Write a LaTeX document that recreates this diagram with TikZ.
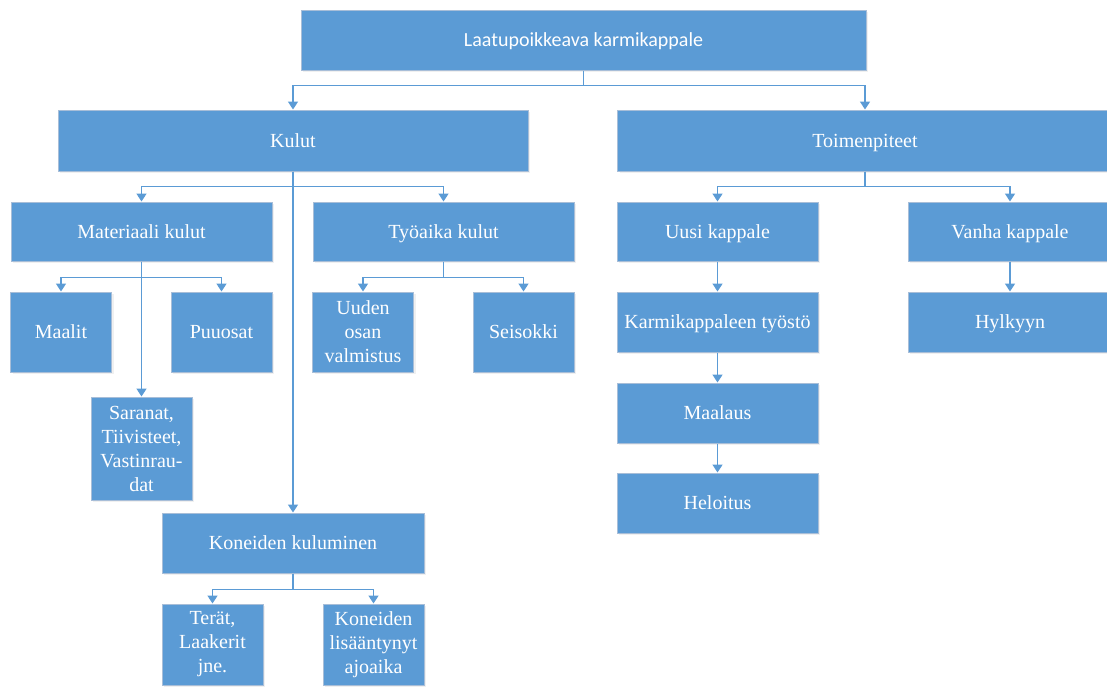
\documentclass[tikz,border=0pt]{standalone}
\usepackage{fontspec}
\setmainfont{Liberation Serif}
\newfontfamily\timesfont{Liberation Serif}
\newfontfamily\calibri{Carlito}
\usepackage{tikz}
\usetikzlibrary{arrows.meta,shadows}
\definecolor{boxblue}{HTML}{5B9BD5}
\definecolor{boxedge}{HTML}{A8BED8}

\begin{document}
\begin{tikzpicture}[x=0.5pt,y=-0.5pt,
	box/.style={fill=boxblue,draw=boxedge,line width=0.5pt,text=white,align=center,
		inner sep=0pt,font=\timesfont\fontsize{10}{12}\selectfont,
		drop shadow={opacity=0.12,shadow xshift=1pt,shadow yshift=-1pt}},
	oneline/.style={box,text height=6.6pt,text depth=0pt},
	conn/.style={draw=boxblue,line width=0.8pt,-{Triangle[length=4pt,width=5pt]}}]
	\useasboundingbox (0,0) rectangle (1107,686);
	\node[oneline,minimum width=282.5pt,minimum height=30pt,font=\calibri\fontsize{10}{12}\selectfont] (v1) at (583.5,40) {Laatupoikkeava karmikappale};
	\node[oneline,minimum width=235pt,minimum height=30.5pt] (v2) at (293,140.5) {Kulut};
	\node[oneline,minimum width=247.5pt,minimum height=30.5pt] (v3) at (865,140.5) {Toimenpiteet};
	\node[oneline,minimum width=130.5pt,minimum height=29.5pt] (v4) at (141.5,231.5) {Materiaali kulut};
	\node[oneline,minimum width=130.5pt,minimum height=29.5pt] (v5) at (443.5,231.5) {Työaika kulut};
	\node[oneline,minimum width=100.5pt,minimum height=29.5pt] (v6) at (717.5,231.5) {Uusi kappale};
	\node[oneline,minimum width=102pt,minimum height=29.5pt] (v7) at (1010,231.5) {Vanha kappale};
	\node[oneline,minimum width=50.5pt,minimum height=40pt] (v8) at (61,332) {Maalit};
	\node[oneline,minimum width=50.5pt,minimum height=40pt] (v9) at (221.5,332) {Puuosat};
	\node[box,minimum width=50.5pt,minimum height=51.5pt] (v10) at (141.5,448.5) {Saranat,\\Tiivisteet,\\Vastinrau-\\dat};
	\node[box,minimum width=50.5pt,minimum height=40pt] (v11) at (363,332) {Uuden\\osan\\valmistus};
	\node[oneline,minimum width=50.5pt,minimum height=40pt] (v12) at (523.5,332) {Seisokki};
	\node[oneline,minimum width=100.5pt,minimum height=30pt] (v13) at (717.5,322) {Karmikappaleen työstö};
	\node[oneline,minimum width=100.5pt,minimum height=30pt] (v14) at (717.5,413) {Maalaus};
	\node[oneline,minimum width=100.5pt,minimum height=30pt] (v15) at (717.5,503) {Heloitus};
	\node[oneline,minimum width=102pt,minimum height=30pt] (v16) at (1010,322) {Hylkyyn};
	\node[oneline,minimum width=131pt,minimum height=30pt] (v17) at (293,543) {Koneiden kuluminen};
	\node[box,minimum width=50.5pt,minimum height=40.5pt] (v18) at (212.5,644.5) {Terät,\\Laakerit\\jne.};
	\node[box,minimum width=50.5pt,minimum height=40.5pt] (v19) at (373.5,644.5) {Koneiden\\lisääntynyt\\ajoaika};
	\draw[conn] (v1.south) -- ++(0,15) -| (v2.north);
	\draw[conn] (v1.south) -- ++(0,15) -| (v3.north);
	\draw[conn] (v2.south) -- ++(0,15) -| (v4.north);
	\draw[conn] (v2.south) -- ++(0,15) -| (v5.north);
	\draw[conn] (v2.south) -- (v17.north);
	\draw[conn] (v3.south) -- ++(0,15) -| (v6.north);
	\draw[conn] (v3.south) -- ++(0,15) -| (v7.north);
	\draw[conn] (v4.south) -- ++(0,16) -| (v8.north);
	\draw[conn] (v4.south) -- ++(0,16) -| (v9.north);
	\draw[conn] (v4.south) -- (v10.north);
	\draw[conn] (v5.south) -- ++(0,16) -| (v11.north);
	\draw[conn] (v5.south) -- ++(0,16) -| (v12.north);
	\draw[conn] (v6) -- (v13);
	\draw[conn] (v13) -- (v14);
	\draw[conn] (v14) -- (v15);
	\draw[conn] (v7) -- (v16);
	\draw[conn] (v17.south) -- ++(0,16) -| (v18.north);
	\draw[conn] (v17.south) -- ++(0,16) -| (v19.north);
\end{tikzpicture}
\end{document}
